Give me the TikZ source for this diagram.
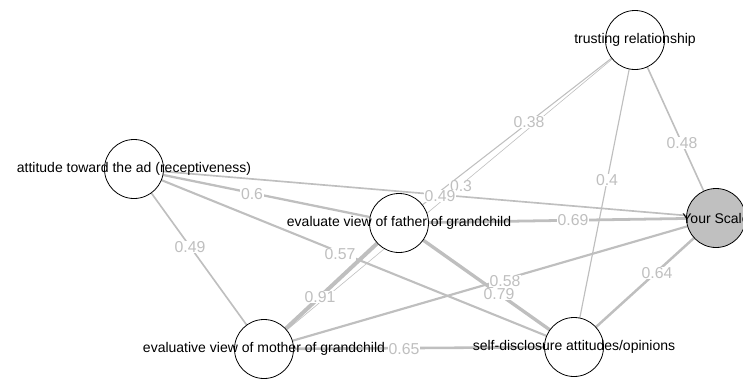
\documentclass[tikz,border=0pt]{standalone}
\usepackage{fontspec}
\setmainfont{Liberation Sans}
\definecolor{edgegrey}{HTML}{BFBFBF}
\definecolor{scalegrey}{HTML}{C0C0C0}
\begin{document}
\begin{tikzpicture}[x=1pt,y=-1pt,
  vnode/.style={circle,draw=black,line width=0.8pt,fill=white,minimum size=59pt,inner sep=0pt},
  vtext/.style={font=\fontsize{14}{14}\selectfont,text=black,inner sep=0pt},
  edgeline/.style={draw=edgegrey,line cap=butt},
  elab/.style={font=\fontsize{15.8}{15.8}\selectfont,text=edgegrey,fill=white,inner sep=0.6pt}]
\useasboundingbox (0,0) rectangle (743,378);
\clip (0,0) rectangle (743,378);
% node positions (circles drawn later, on top of the edges)
\coordinate (ctr) at (635,40);
\coordinate (cys) at (716,218);
\coordinate (cat) at (134,169);
\coordinate (cfa) at (399,223);
\coordinate (cmo) at (264,349);
\coordinate (cse) at (574,347);
% invisible anchors with the circle size, so edges stop at the borders
\begin{scope}[every node/.style={circle,minimum size=59pt,inner sep=0pt}]
\node (tr) at (ctr) {};
\node (ys) at (cys) {};
\node (at) at (cat) {};
\node (fa) at (cfa) {};
\node (mo) at (cmo) {};
\node (se) at (cse) {};
\end{scope}
% edges
\draw[edgeline,line width=0.6pt]  (tr) -- (mo);
\draw[edgeline,line width=1.05pt] (tr) -- (fa);
\draw[edgeline,line width=1.16pt] (tr) -- (se);
\draw[edgeline,line width=1.6pt]  (tr) -- (ys);
\draw[edgeline,line width=1.66pt] (at) -- (ys);
\draw[edgeline,line width=2.28pt] (at) -- (fa);
\draw[edgeline,line width=2.1pt]  (at) -- (se);
\draw[edgeline,line width=1.66pt] (at) -- (mo);
\draw[edgeline,line width=2.78pt] (fa) -- (ys);
\draw[edgeline,line width=4pt]    (fa) -- (mo);
\draw[edgeline,line width=3.34pt] (fa) -- (se);
\draw[edgeline,line width=2.17pt] (mo) -- (ys);
\draw[edgeline,line width=2.56pt] (mo) -- (se);
\draw[edgeline,line width=2.5pt]  (ys) -- (se);
% edge labels
\node[elab] (l1)  at (529,122) {0.38};
\node[elab] (l2)  at (461,186) {0.3};
\node[elab] (l3)  at (607,180) {0.4};
\node[elab] (l4)  at (682,143) {0.48};
\node[elab] (l5)  at (440,196) {0.49};
\node[elab] (l6)  at (252,194) {0.6};
\node[elab] (l7)  at (340,254) {0.57};
\node[elab] (l8)  at (190,247) {0.49};
\node[elab] (l9)  at (573,220) {0.69};
\node[elab] (l10) at (320,297) {0.91};
\node[elab] (l11) at (499,294) {0.79};
\node[elab] (l12) at (505,281) {0.58};
\node[elab] (l13) at (404,349) {0.65};
\node[elab] (l14) at (657,273) {0.64};
% circles with their texts
\node[vnode,label={[vtext]center:trusting relationship}] (ntr) at (ctr) {};
\node[vnode,fill=scalegrey,label={[vtext]center:Your Scale}] (nys) at (cys) {};
\node[vnode,label={[vtext]center:attitude toward the ad (receptiveness)}] (nat) at (cat) {};
\node[vnode,label={[vtext]center:evaluate view of father of grandchild}] (nfa) at (cfa) {};
\node[vnode,label={[vtext]center:evaluative view of mother of grandchild}] (nmo) at (cmo) {};
\node[vnode,label={[vtext]center:self-disclosure attitudes/opinions}] (nse) at (cse) {};
\end{tikzpicture}
\end{document}
